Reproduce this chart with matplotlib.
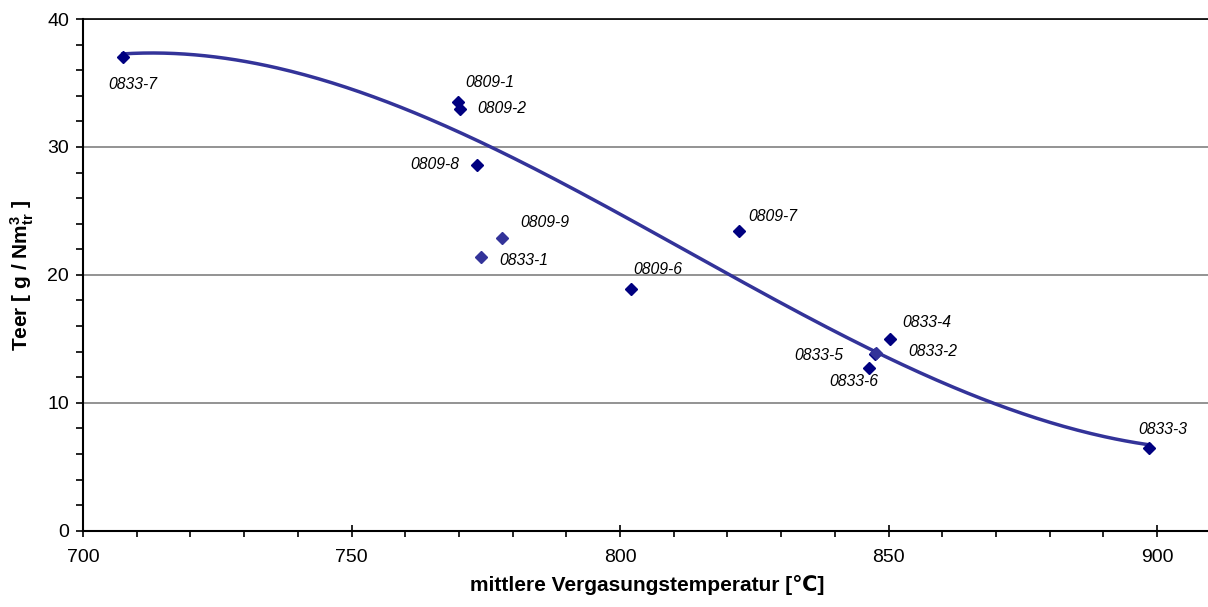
import numpy as np
import matplotlib.pyplot as plt
from matplotlib.ticker import MultipleLocator

plt.rcParams['font.family'] = ['Liberation Sans', 'DejaVu Sans']
plt.rcParams['mathtext.fontset'] = 'custom'
plt.rcParams['mathtext.bf'] = 'Liberation Sans:bold'
plt.rcParams['mathtext.rm'] = 'Liberation Sans'

# test runs: mean gasification temperature vs tar content
names = ['0833-7', '0809-1', '0809-2', '0809-8', '0809-9', '0833-1', '0809-6',
         '0809-7', '0833-4', '0833-2', '0833-5', '0833-6', '0833-3']
temp = [707.4, 769.9, 770.2, 773.3, 778.0, 774.2, 802.0,
        822.2, 850.3, 847.6, 847.4, 846.3, 898.6]
tar = [37.0, 33.5, 33.0, 28.6, 22.9, 21.4, 18.9,
       23.4, 15.0, 13.9, 13.8, 12.7, 6.5]
light = [False, False, False, False, True, True, False,
         False, False, True, False, False, False]

# label offsets in pixels (dx, dy, ha)
offs = [(10, -27, 'center'), (7, 20, 'left'), (17, 0, 'left'), (-17, 0, 'right'),
        (18, 15, 'left'), (18, -4, 'left'), (3, 19, 'left'), (9, 15, 'left'),
        (12, 16, 'left'), (33, 1, 'left'), (-31, -1, 'right'), (-15, -13, 'center'),
        (13, 18, 'center')]

x = np.array(temp)
y = np.array(tar)
dark = ~np.array(light)

fig = plt.figure(figsize=(12.08, 6.07), dpi=100)
ax = fig.add_axes([83/1208, 76.3/607, 1127.7/1208, 511.7/607])

# polynomial trend line (order 3) of the dark series
c = np.polyfit(x[dark], y[dark], 3)
xx = np.linspace(x[dark].min(), x[dark].max(), 300)
ax.plot(xx, np.polyval(c, xx), color='#333399', lw=2.5, zorder=3)

for i in range(len(x)):
    col = '#333399' if light[i] else '#000080'
    ax.plot(x[i], y[i], marker='D', ms=5.8, color=col, ls='none',
            zorder=5 if light[i] else 4)
    dx, dy, ha = offs[i]
    ax.annotate(names[i], (x[i], y[i]), xytext=(dx*0.72, dy*0.72),
                textcoords='offset points', ha=ha, va='center',
                fontsize=11.3, style='italic', color='black')

ax.set_xlim(700, 910)
ax.set_ylim(0, 40)
ax.xaxis.set_major_locator(MultipleLocator(50))
ax.xaxis.set_minor_locator(MultipleLocator(10))
ax.yaxis.set_major_locator(MultipleLocator(10))
ax.yaxis.set_minor_locator(MultipleLocator(2))
ax.grid(axis='y', which='major', color='#808080', lw=1.2)
ax.set_axisbelow(True)

ax.tick_params(axis='x', which='major', direction='inout', length=8, width=1.2,
               labelsize=14, pad=9)
ax.tick_params(axis='x', which='minor', direction='out', length=4, width=1.2)
ax.tick_params(axis='y', which='major', direction='out', length=5, width=1.2,
               labelsize=14, pad=5)
ax.tick_params(axis='y', which='minor', direction='out', length=5, width=1.2)

for s in ['left', 'bottom']:
    ax.spines[s].set_linewidth(1.5)
ax.spines['top'].set_linewidth(1.2)
ax.spines['right'].set_visible(False)

ax.set_xlabel('mittlere Vergasungstemperatur [℃]', fontsize=15, fontweight='bold',
              labelpad=7)
ax.set_ylabel(r'Teer [ g / Nm$\mathbf{^3_{tr}}$ ]', fontsize=15, fontweight='bold',
              labelpad=8)

fig.savefig('out.png', dpi=100)
